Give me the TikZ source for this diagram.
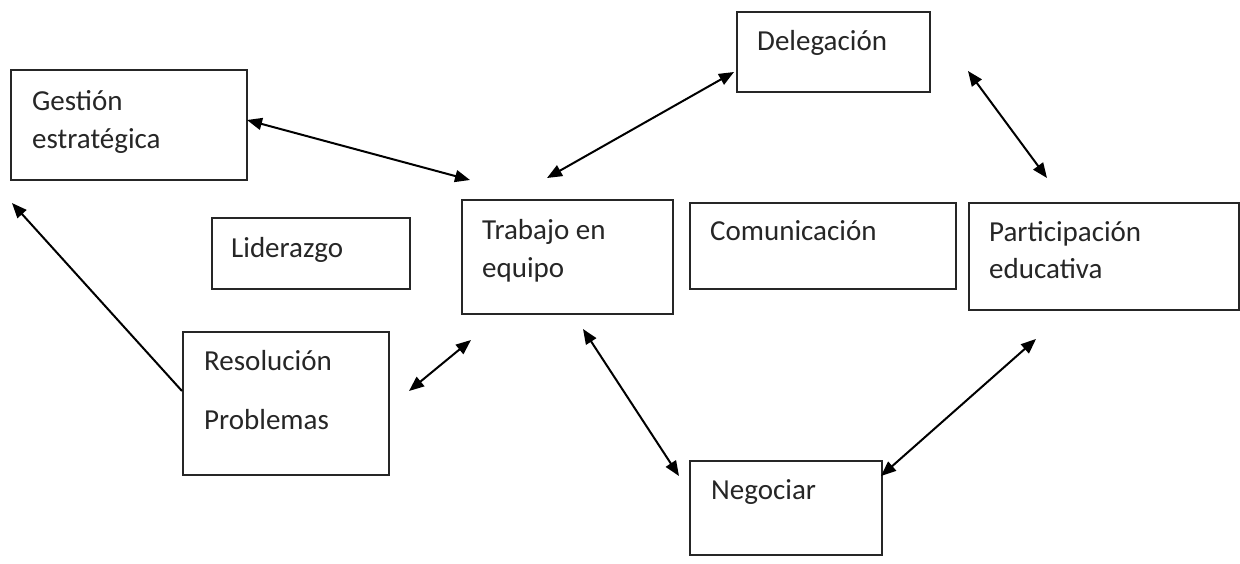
\documentclass[tikz,border=0pt]{standalone}
\usepackage{fontspec}
\setmainfont{Carlito}
\usetikzlibrary{arrows.meta}
\tikzset{
  box/.style={draw=black!85, line width=1.8pt, rectangle, inner sep=0pt, anchor=north west},
  lbl/.style={anchor=base west, inner sep=0pt, text=black!85, font=\fontsize{29}{38}\selectfont},
  link/.style={line width=2pt, black, {Triangle[length=15pt,width=12pt]}-{Triangle[length=15pt,width=12pt]}},
  onelink/.style={line width=2pt, black, -{Triangle[length=15pt,width=12pt]}}
}
\begin{document}
\begin{tikzpicture}[x=1pt,y=-1pt]
\useasboundingbox[fill=white] (0,0) rectangle (1240,563);
% boxes
\node[box, minimum width=236pt, minimum height=110pt] (gest) at (10,69) {};
\node[box, minimum width=198pt, minimum height=71pt] (lid) at (211,217) {};
\node[box, minimum width=211pt, minimum height=114pt] (trab) at (461,199) {};
\node[box, minimum width=266pt, minimum height=86pt] (com) at (689,202) {};
\node[box, minimum width=270pt, minimum height=107pt] (part) at (968,202) {};
\node[box, minimum width=193pt, minimum height=80pt] (deleg) at (736,11) {};
\node[box, minimum width=206pt, minimum height=143pt] (reso) at (182,331) {};
\node[box, minimum width=192pt, minimum height=94pt] (nego) at (689,460) {};
% labels
\node[lbl] (tg1) at (32,110) {Gestión};
\node[lbl] (tg2) at (32,148) {estratégica};
\node[lbl] (tl) at (231,257) {Liderazgo};
\node[lbl] (tt1) at (482,239) {Trabajo en};
\node[lbl] (tt2) at (482,277) {equipo};
\node[lbl] (tc) at (710,240) {Comunicación};
\node[lbl] (tp1) at (989,241) {Participación};
\node[lbl] (tp2) at (989,278) {educativa};
\node[lbl] (td) at (757,50) {Delegación};
\node[lbl] (tr1) at (204,370) {Resolución};
\node[lbl] (tr2) at (204,429) {Problemas};
\node[lbl] (tn) at (711,499) {Negociar};
% arrow end points
\coordinate (a1) at (247,120);
\coordinate (a2) at (470,180);
\coordinate (b1) at (547,178);
\coordinate (b2) at (734,72);
\coordinate (c1) at (968,71);
\coordinate (c2) at (1047,178);
\coordinate (d1) at (182,391);
\coordinate (d2) at (12,203);
\coordinate (e1) at (409,391);
\coordinate (e2) at (471,340);
\coordinate (f1) at (583,329);
\coordinate (f2) at (679,476);
\coordinate (g1) at (1036,339);
\coordinate (g2) at (881,476);
% connectors
\draw[link] (a1) -- (a2);
\draw[link] (b1) -- (b2);
\draw[link] (c1) -- (c2);
\draw[onelink] (d1) -- (d2);
\draw[link] (e1) -- (e2);
\draw[link] (f1) -- (f2);
\draw[link] (g1) -- (g2);
\end{tikzpicture}
\end{document}
